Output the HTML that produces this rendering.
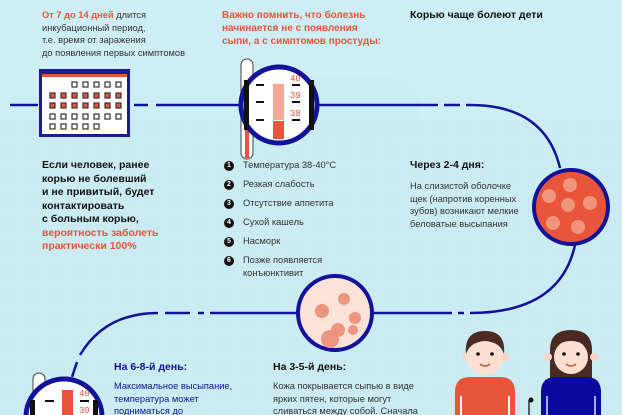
<!DOCTYPE html>
<html><head><meta charset="utf-8"><style>
html,body{margin:0;padding:0;width:622px;height:415px;overflow:hidden}
body{background:#cdeef4;position:relative;font-family:"Liberation Sans","DejaVu Sans",sans-serif}
.t{position:absolute;font-size:9.3px;line-height:12.5px;color:#333}
.o{color:#e8553a}
.b{font-weight:bold}
.n{position:absolute;width:10px;height:10px;border-radius:50%;background:#111;color:#fff;font-size:7px;line-height:10px;text-align:center;font-weight:bold}
</style></head><body>
<svg width="622" height="415" style="position:absolute;left:0;top:0">
<defs><pattern id="d" width="3" height="3" patternUnits="userSpaceOnUse"><rect width="3" height="3" fill="#c8eaf1"/><rect width="1" height="1" fill="#bfe3eb"/></pattern></defs>
<path d="M0 120 L622 120 L622 415 L0 415Z" fill="url(#d)" opacity="0.6"/>
<rect x="270" y="78" width="150" height="60" rx="30" fill="url(#d)" opacity="0.5"/>
<g fill="none" stroke="#12129a" stroke-width="2.5">
<path d="M10 105 H38"/><path d="M134 105 H148"/><path d="M156 105 H240"/>
<path d="M318 105 H438"/><path d="M444 105 H460"/><path d="M466 105 H470 Q545 105 560 168"/>
<path d="M575 245 Q560 313 470 313"/><path d="M464 313 H458"/><path d="M452 313 H372"/>
<path d="M300 313 H210"/><path d="M204 313 H198"/><path d="M190 313 H165"/><path d="M158 313 Q105 313 80 355"/><path d="M77 362 L72 377"/>
</g>
<rect x="39" y="69" width="91" height="68" fill="#1c1c8e"/>
<rect x="42" y="76" width="85" height="58" fill="#fff"/>
<rect x="42" y="74" width="85" height="3" fill="#e8553a"/>
<g fill="#fff" stroke="#333" stroke-width="1.2">
<rect x="72" y="82" width="5" height="5"/><rect x="83" y="82" width="5" height="5"/><rect x="94" y="82" width="5" height="5"/><rect x="105" y="82" width="5" height="5"/><rect x="116" y="82" width="5" height="5"/>
<rect x="50" y="114" width="5" height="5"/><rect x="61" y="114" width="5" height="5"/><rect x="72" y="114" width="5" height="5"/><rect x="83" y="114" width="5" height="5"/><rect x="94" y="114" width="5" height="5"/><rect x="105" y="114" width="5" height="5"/><rect x="116" y="114" width="5" height="5"/>
<rect x="50" y="124" width="5" height="5"/><rect x="61" y="124" width="5" height="5"/><rect x="72" y="124" width="5" height="5"/><rect x="83" y="124" width="5" height="5"/><rect x="94" y="124" width="5" height="5"/>
</g>
<g fill="#e8553a" stroke="#333" stroke-width="1.2">
<rect x="50" y="93" width="5" height="5"/><rect x="61" y="93" width="5" height="5"/><rect x="72" y="93" width="5" height="5"/><rect x="83" y="93" width="5" height="5"/><rect x="94" y="93" width="5" height="5"/><rect x="105" y="93" width="5" height="5"/><rect x="116" y="93" width="5" height="5"/>
<rect x="50" y="103" width="5" height="5"/><rect x="61" y="103" width="5" height="5"/><rect x="72" y="103" width="5" height="5"/><rect x="83" y="103" width="5" height="5"/><rect x="94" y="103" width="5" height="5"/><rect x="105" y="103" width="5" height="5"/><rect x="116" y="103" width="5" height="5"/>
</g>
<rect x="241" y="59" width="12" height="100" rx="6" fill="#fff" stroke="#444" stroke-width="1"/>
<rect x="245" y="130" width="4" height="28" fill="#e8553a"/>
<circle cx="279" cy="105" r="38" fill="#fff" stroke="#12129a" stroke-width="5"/>
<rect x="244" y="80" width="5" height="50" fill="#111"/><rect x="309" y="80" width="5" height="50" fill="#111"/>
<rect x="273" y="84" width="11" height="36" fill="#f3a996"/><rect x="273" y="121" width="11" height="18" fill="#e8553a"/>
<g stroke="#111" stroke-width="2"><path d="M256 85 H264M256 102 H264M256 120 H264M292 85 H300M292 102 H300M292 120 H300"/></g>
<g fill="#e8553a" font-size="9" font-family="Liberation Mono,monospace"><text x="290" y="81">40</text><text x="290" y="98">39</text><text x="290" y="116">38</text></g>
<circle cx="571" cy="207" r="37" fill="#e8553a" stroke="#12129a" stroke-width="4"/>
<g fill="#f5a58f" opacity="0.8"><circle cx="570" cy="185" r="7"/><circle cx="549" cy="196" r="7"/><circle cx="568" cy="205" r="7"/><circle cx="590" cy="203" r="7"/><circle cx="553" cy="223" r="7"/><circle cx="578" cy="227" r="7"/></g>
<circle cx="335" cy="313" r="37" fill="#fde2d8" stroke="#12129a" stroke-width="4"/>
<g fill="#ee9580"><circle cx="344" cy="299" r="6"/><circle cx="322" cy="311" r="7"/><circle cx="355" cy="318" r="6"/><circle cx="353" cy="330" r="5"/><circle cx="330" cy="339" r="9"/><circle cx="338" cy="330" r="7"/></g>
<rect x="33" y="373" width="12" height="60" rx="6" fill="#fff" stroke="#444" stroke-width="1"/>
<circle cx="64" cy="417" r="38" fill="#fff" stroke="#12129a" stroke-width="5"/>
<rect x="30" y="400" width="5" height="20" fill="#111"/><rect x="93" y="400" width="5" height="20" fill="#111"/>
<rect x="62" y="390" width="11" height="30" fill="#e8553a"/>
<g stroke="#111" stroke-width="2"><path d="M45 401 H54M80 401 H89"/></g>
<g fill="#e8553a" font-size="9" font-family="Liberation Mono,monospace"><text x="79" y="396">40</text><text x="79" y="413">39</text></g>
<path d="M455 415 V392 Q455 377 470 377 H500 Q515 377 515 392 V415Z" fill="#e8553a"/>
<path d="M461 415 V396" stroke="#fff" stroke-width="2"/><path d="M509 415 V396" stroke="#fff" stroke-width="2"/>
<circle cx="466" cy="357" r="4" fill="#fcd4c6"/><circle cx="505" cy="357" r="4" fill="#fcd4c6"/>
<circle cx="485" cy="357" r="18" fill="#fde0d2"/>
<path d="M466 354 Q464 331 485 331 Q506 331 504 354 Q500 342 485 341 Q470 342 466 354Z" fill="#4a2a22"/>
<circle cx="478" cy="354" r="1.8" fill="#111"/><circle cx="492" cy="354" r="1.8" fill="#111"/>
<path d="M480 364 Q485 368 490 364" stroke="#c0604a" fill="none" stroke-width="1.5"/>
<path d="M550 400 V350 Q550 330 571 330 Q592 330 592 350 V400Z" fill="#4a2a22"/>
<path d="M541 415 V392 Q541 377 556 377 H586 Q601 377 601 392 V415Z" fill="#0a0aa2"/>
<path d="M547 415 V396" stroke="#cdeef4" stroke-width="1.5"/><path d="M595 415 V396" stroke="#cdeef4" stroke-width="1.5"/>
<circle cx="548" cy="357" r="4" fill="#fcd4c6"/><circle cx="594" cy="357" r="4" fill="#fcd4c6"/>
<circle cx="571" cy="357" r="17" fill="#fde0d2"/>
<path d="M553 352 Q556 336 571 336 Q586 336 589 352 Q584 341 571 341 Q558 341 553 352Z" fill="#4a2a22"/>
<circle cx="564" cy="354" r="1.8" fill="#111"/><circle cx="578" cy="354" r="1.8" fill="#111"/>
<path d="M566 364 Q571 368 576 364" stroke="#c0604a" fill="none" stroke-width="1.5"/>
<path d="M529 415 V400" stroke="#111" stroke-width="1.3"/><circle cx="531" cy="400" r="2.5" fill="#111"/>
</svg>
<div class="t" style="left:42px;top:9px"><span class="o b">От 7 до 14 дней</span> длится<br>инкубационный период,<br>т.е. время от заражения<br>до появления первых симптомов</div>
<div class="t o b" style="left:222px;top:9px;font-size:10px;line-height:13px">Важно помнить, что болезнь<br>начинается не с появления<br>сыпи, а с симптомов простуды:</div>
<div class="t b" style="left:410px;top:9px;font-size:10.5px;color:#111">Корью чаще болеют дети</div>
<div class="t b" style="left:42px;top:159px;font-size:10.5px;line-height:13.5px;color:#111">Если человек, ранее<br>корью не болевший<br>и не привитый, будет<br>контактировать<br>с больным корью,<br><span class="o">вероятность заболеть<br>практически 100%</span></div>
<div class="n" style="left:224px;top:161px">1</div><div class="t" style="left:243px;top:159px">Температура 38-40°C</div>
<div class="n" style="left:224px;top:180px">2</div><div class="t" style="left:243px;top:178px">Резкая слабость</div>
<div class="n" style="left:224px;top:199px">3</div><div class="t" style="left:243px;top:197px">Отсутствие аппетита</div>
<div class="n" style="left:224px;top:218px">4</div><div class="t" style="left:243px;top:216px">Сухой кашель</div>
<div class="n" style="left:224px;top:237px">5</div><div class="t" style="left:243px;top:235px">Насморк</div>
<div class="n" style="left:224px;top:256px">6</div><div class="t" style="left:243px;top:254px">Позже появляется<br>конъюнктивит</div>
<div class="t b" style="left:410px;top:159px;font-size:10.5px;color:#111">Через 2-4 дня:</div>
<div class="t" style="left:410px;top:180px">На слизистой оболочке<br>щек (напротив коренных<br>зубов) возникают мелкие<br>беловатые высыпания</div>
<div class="t b" style="left:114px;top:361px;font-size:10.5px;color:#12129a">На 6-8-й день:</div>
<div class="t" style="left:114px;top:380px;color:#12129a;height:35px;overflow:hidden">Максимальное высыпание,<br>температура может<br>подниматься до</div>
<div class="t b" style="left:273px;top:361px;font-size:10.5px;color:#111">На 3-5-й день:</div>
<div class="t" style="left:273px;top:380px;height:35px;overflow:hidden">Кожа покрывается сыпью в виде<br>ярких пятен, которые могут<br>сливаться между собой. Сначала</div>
</body></html>
